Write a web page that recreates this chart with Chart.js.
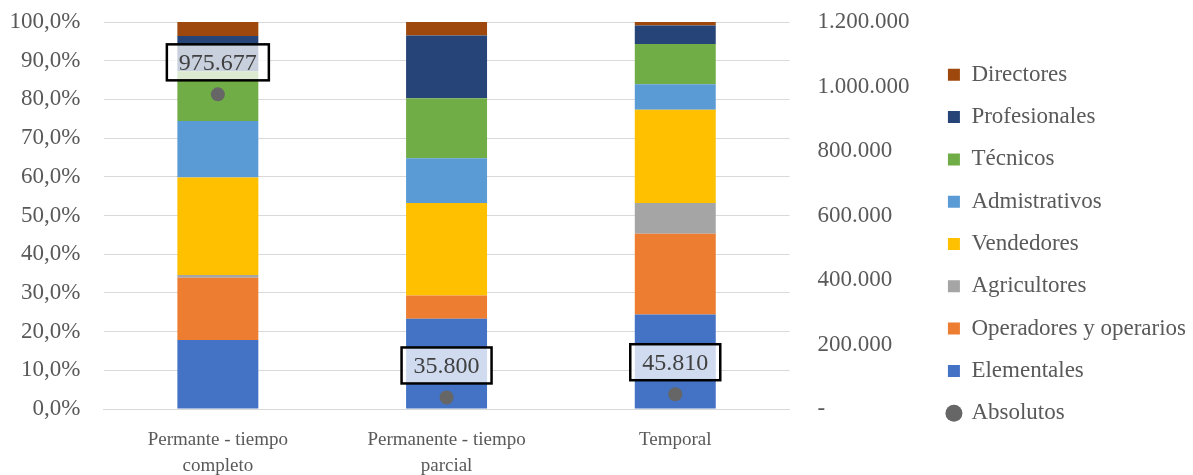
<!DOCTYPE html>
<html>
<head>
<meta charset="utf-8">
<script src="https://cdn.jsdelivr.net/npm/chart.js@4.4.0/dist/chart.umd.min.js"></script>
<style>
  html, body { margin: 0; padding: 0; background: #fff; }
</style>
</head>
<body>
<canvas id="grafico" width="1193" height="475"></canvas>
<script>
// Datos (porcentaje de cada grupo ocupacional por tipo de contrato)
const categorias = [['Permante - tiempo', 'completo'], ['Permanente - tiempo', 'parcial'], 'Temporal'];
const elementales   = [17.8, 23.3, 24.4];
const operadores    = [16.1, 6.0, 20.9];
const agricultores  = [0.7, 0.0, 7.9];
const vendedores    = [25.2, 23.9, 24.1];
const admin         = [14.6, 11.6, 6.6];
const tecnicos      = [12.9, 15.5, 10.4];
const profesionales = [9.1, 16.2, 4.8];
const directores    = [3.6, 3.5, 0.9];
const absolutos     = [975677, 35800, 45810];

const fuente = '"Liberation Serif", "Times New Roman", serif';
const gris = '#595959';

function miles(v) {
    return String(v).replace(/\B(?=(\d{3})+(?!\d))/g, '.');
}

// Cajas con el valor absoluto encima de cada punto
const etiquetas = {
    id: 'etiquetas',
    afterDatasetsDraw(chart) {
        const idx = chart.data.datasets.findIndex(d => d.label === 'Absolutos');
        const meta = chart.getDatasetMeta(idx);
        const ctx = chart.ctx;
        ctx.save();
        ctx.font = '24px ' + fuente;
        meta.data.forEach((pt, i) => {
            const txt = miles(absolutos[i]);
            const w = ctx.measureText(txt).width + 24;
            const h = 36;
            const cx = pt.x, cy = pt.y - 32;
            ctx.fillStyle = 'rgba(255,255,255,0.75)';
            ctx.fillRect(cx - w / 2, cy - h / 2, w, h);
            ctx.strokeStyle = '#000';
            ctx.lineWidth = 2.5;
            ctx.strokeRect(cx - w / 2, cy - h / 2, w, h);
            ctx.fillStyle = '#404040';
            ctx.textAlign = 'center';
            ctx.textBaseline = 'middle';
            ctx.fillText(txt, cx, cy + 1);
        });
        ctx.restore();
    }
};

function barra(label, data, color) {
    return { label: label, data: data, backgroundColor: color, pointStyle: 'rect', yAxisID: 'y' };
}

const grafico = new Chart(document.getElementById('grafico'), {
    type: 'bar',
    data: {
        labels: categorias,
        datasets: [
            barra('Elementales', elementales, '#4472C4'),
            barra('Operadores y operarios', operadores, '#ED7D31'),
            barra('Agricultores', agricultores, '#A5A5A5'),
            barra('Vendedores', vendedores, '#FFC000'),
            barra('Admistrativos', admin, '#5B9BD5'),
            barra('Técnicos', tecnicos, '#70AD47'),
            barra('Profesionales', profesionales, '#264478'),
            barra('Directores', directores, '#9E480E'),
            {
                type: 'line',
                label: 'Absolutos',
                data: absolutos,
                yAxisID: 'y1',
                showLine: false,
                pointRadius: 7,
                pointStyle: 'circle',
                pointBackgroundColor: '#666666',
                backgroundColor: '#666666',
                pointBorderWidth: 0,
                borderWidth: 0,
                order: -1
            }
        ]
    },
    options: {
        responsive: false,
        animation: false,
        datasets: {
            bar: { barPercentage: 0.354, categoryPercentage: 1, borderWidth: 0 }
        },
        layout: { padding: { top: 13, left: 9, right: -3, bottom: 0 } },
        scales: {
            x: {
                stacked: true,
                grid: { display: false },
                border: { color: '#d9d9d9', width: 1 },
                ticks: {
                    color: gris,
                    font: { family: fuente, size: 19, lineHeight: 1.37 },
                    padding: 10,
                    maxRotation: 0,
                    autoSkip: false
                },
                afterFit: s => { s.height = 66; s.paddingLeft = 0; s.paddingRight = 0; }
            },
            y: {
                stacked: true,
                min: 0,
                max: 100,
                grid: { color: '#d9d9d9', drawTicks: false },
                border: { display: false },
                ticks: {
                    stepSize: 10,
                    color: gris,
                    font: { family: fuente, size: 23 },
                    padding: 23,
                    callback: v => v.toFixed(1).replace('.', ',') + '%'
                },
                afterFit: s => { s.width = 94.5; s.paddingTop = 22; s.paddingBottom = 0; }
            },
            y1: {
                position: 'right',
                min: 0,
                max: 1200000,
                grid: { display: false, drawTicks: false },
                border: { display: false },
                ticks: {
                    stepSize: 200000,
                    color: gris,
                    font: { family: fuente, size: 23 },
                    padding: 28,
                    callback: v => v === 0 ? '-' : miles(v)
                },
                afterFit: s => { s.width = 139; s.paddingTop = 22; s.paddingBottom = 0; }
            }
        },
        plugins: {
            legend: {
                position: 'right',
                reverse: true,
                maxWidth: 300,
                labels: {
                    usePointStyle: true,
                    boxWidth: 12,
                    boxHeight: 12,
                    padding: 19.3,
                    color: gris,
                    font: { family: fuente, size: 23 }
                }
            },
            tooltip: { enabled: false }
        }
    },
    plugins: [etiquetas]
});
</script>
</body>
</html>
